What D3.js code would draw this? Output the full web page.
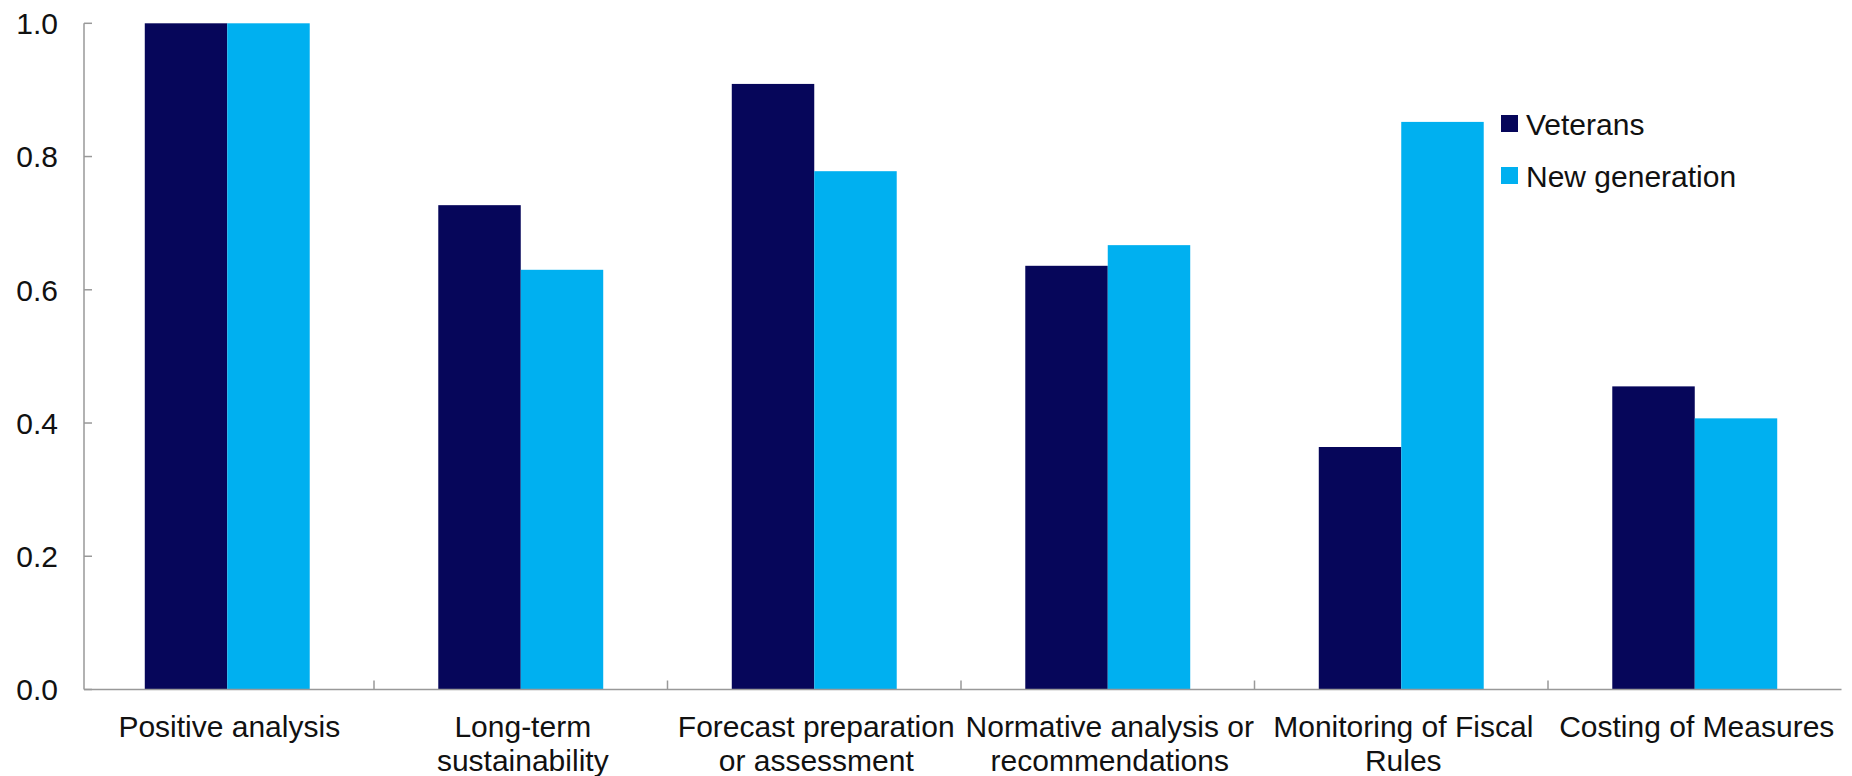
<!DOCTYPE html>
<html>
<head>
<meta charset="utf-8">
<script src="https://cdn.jsdelivr.net/npm/d3@7"></script>
<style>
  html, body { margin: 0; padding: 0; background: #fff; }
  svg { display: block; }
  text { font-family: "Liberation Sans", Arial, sans-serif; fill: #111; }
</style>
</head>
<body>
<svg id="chart" width="1852" height="776"></svg>
<script>
const categories = ["Positive analysis", "Long-term sustainability", "Forecast preparation or assessment",
  "Normative analysis or recommendations", "Monitoring of Fiscal Rules", "Costing of Measures"];
const tickLabels = [["Positive analysis"], ["Long-term", "sustainability"], ["Forecast preparation", "or assessment"],
  ["Normative analysis or", "recommendations"], ["Monitoring of Fiscal", "Rules"], ["Costing of Measures"]];
const seriesNames = ["Veterans", "New generation"];
const veterans = [1.0, 0.727, 0.909, 0.636, 0.364, 0.455];
const newGeneration = [1.0, 0.630, 0.778, 0.667, 0.852, 0.407];
const yTicks = [0.0, 0.2, 0.4, 0.6, 0.8, 1.0];
const colors = ["#06065a", "#00b0f0"];

const svg = d3.select("#chart");
const axisX = 84;
const x0 = d3.scaleBand().domain(categories).range([80.5, 1841.5]).paddingInner(0).paddingOuter(0);
const bw = x0.bandwidth();
const x1 = d3.scaleBand().domain(seriesNames).range([bw * 0.219, bw * 0.781]);
const y = d3.scaleLinear().domain([0, 1]).range([689.5, 23.3]);

const series = [veterans, newGeneration];
const rows = categories.map((c, i) => ({ c, vals: seriesNames.map((s, j) => ({ s, v: series[j][i], j })) }));

// bars
const g = svg.append("g");
g.selectAll("g.cat").data(rows).join("g")
  .attr("class", "cat")
  .attr("transform", d => `translate(${x0(d.c)},0)`)
  .selectAll("rect").data(d => d.vals).join("rect")
  .attr("x", d => x1(d.s))
  .attr("width", x1.bandwidth())
  .attr("y", d => y(d.v))
  .attr("height", d => y(0) - y(d.v))
  .attr("fill", d => colors[d.j]);

// y axis
const yAxis = svg.append("g").attr("transform", `translate(${axisX},0)`);
yAxis.append("line").attr("x1", 0).attr("x2", 0).attr("y1", y(1)).attr("y2", y(0))
  .attr("stroke", "#999").attr("stroke-width", 1.5);
yAxis.selectAll("line.tick").data(yTicks).join("line").attr("class", "tick")
  .attr("x1", 0).attr("x2", 8).attr("y1", d => y(d)).attr("y2", d => y(d))
  .attr("stroke", "#999").attr("stroke-width", 1.5);
yAxis.selectAll("text").data(yTicks).join("text")
  .attr("x", -26).attr("y", d => y(d)).attr("dy", "0.36em")
  .attr("text-anchor", "end").attr("font-size", 30)
  .text(d => d3.format(".1f")(d));

// x axis
const xAxis = svg.append("g");
xAxis.append("line").attr("x1", axisX).attr("x2", x0.range()[1]).attr("y1", y(0)).attr("y2", y(0))
  .attr("stroke", "#999").attr("stroke-width", 1.5);
xAxis.selectAll("line.tick").data(categories.slice(1)).join("line").attr("class", "tick")
  .attr("x1", d => x0(d)).attr("x2", d => x0(d)).attr("y1", y(0)).attr("y2", y(0) - 9)
  .attr("stroke", "#999").attr("stroke-width", 1.5);
const lbl = xAxis.selectAll("text").data(categories).join("text")
  .attr("text-anchor", "middle").attr("font-size", 30)
  .attr("transform", d => `translate(${x0(d) + bw / 2 + 2},736.5)`);
lbl.selectAll("tspan").data((d, i) => tickLabels[i]).join("tspan")
  .attr("x", 0).attr("dy", (d, i) => i === 0 ? 0 : 34.5).text(d => d);

// legend
const leg = svg.append("g").attr("transform", "translate(1501,115)");
seriesNames.forEach((s, i) => {
  const r = leg.append("g").attr("transform", `translate(0,${i * 52})`);
  r.append("rect").attr("width", 17).attr("height", 17).attr("fill", colors[i]);
  r.append("text").attr("x", 25).attr("y", 20).attr("font-size", 30).text(s);
});
</script>
</body>
</html>
